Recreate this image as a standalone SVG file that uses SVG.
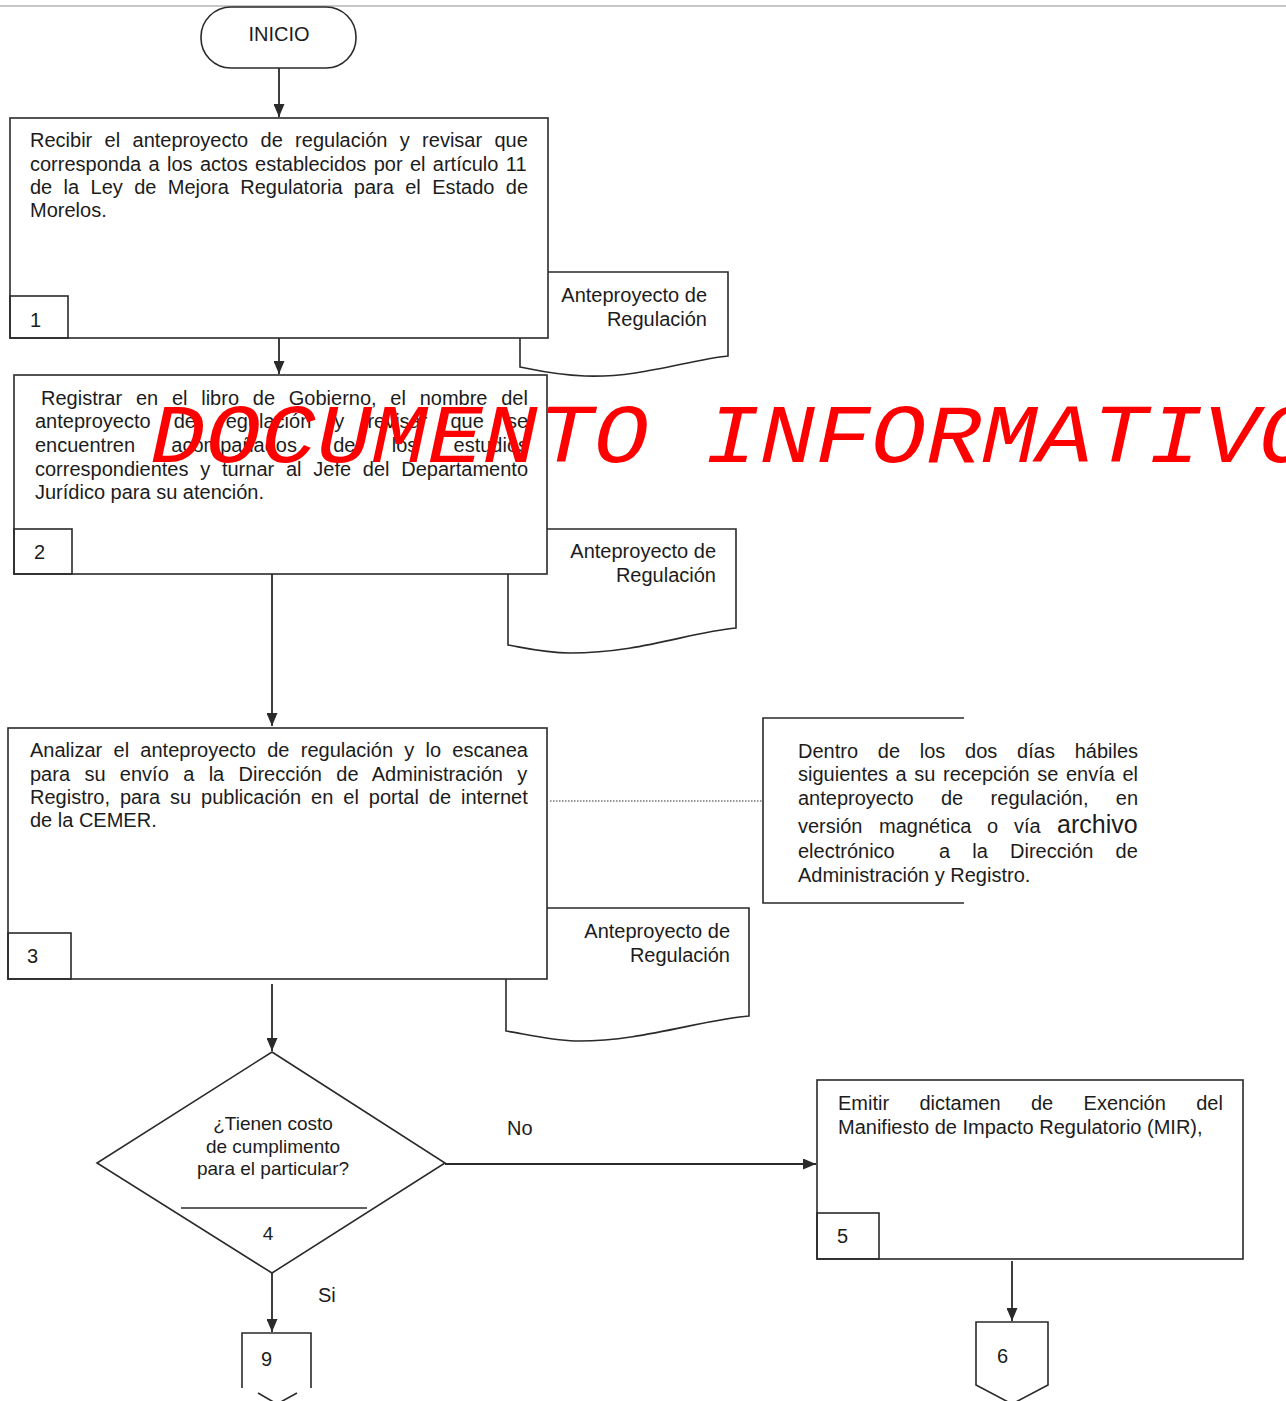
<svg xmlns="http://www.w3.org/2000/svg" width="1286" height="1401" viewBox="0 0 1286 1401">
<defs>
<style>
.t{font-family:"Liberation Sans",Arial,sans-serif;font-size:20px;fill:#1c1c1c}
.s{fill:#fff;stroke:#2a2a2a;stroke-width:1.6}
.n{fill:none;stroke:#2a2a2a;stroke-width:1.6}
.c{fill:none;stroke:#2a2a2a;stroke-width:1.8}
.e{text-anchor:end}
.m{text-anchor:middle}
</style>
<marker id="ah" viewBox="0 0 13 11" refX="13" refY="5.5" markerWidth="13" markerHeight="11" markerUnits="userSpaceOnUse" orient="auto">
<path d="M0,0 L13,5.5 L0,11 Z" fill="#2a2a2a"/>
</marker>
</defs>
<rect x="0" y="0" width="1286" height="1401" fill="#fff"/>
<line x1="0" y1="6" x2="1286" y2="6" stroke="#b5b5b5" stroke-width="1.5"/>

<g id="connectors">
<line class="c" x1="279" y1="68" x2="279" y2="117" marker-end="url(#ah)"/>
<line class="c" x1="279" y1="338" x2="279" y2="374" marker-end="url(#ah)"/>
<line class="c" x1="272" y1="574" x2="272" y2="726" marker-end="url(#ah)"/>
<line class="c" x1="272" y1="984" x2="272" y2="1051" marker-end="url(#ah)"/>
<line class="c" x1="445" y1="1164" x2="816" y2="1164" marker-end="url(#ah)"/>
<line class="c" x1="272" y1="1273" x2="272" y2="1332" marker-end="url(#ah)"/>
<line class="c" x1="1012" y1="1261" x2="1012" y2="1321" marker-end="url(#ah)"/>
<line x1="550" y1="801" x2="762" y2="801" stroke="#333" stroke-width="1.2" stroke-dasharray="1.5,1.5"/>
<text class="t" x="507" y="1135">No</text>
<text class="t" x="318" y="1302">Si</text>
</g>

<g id="inicio">
<rect class="s" x="201" y="7" width="155" height="61" rx="30" ry="30"/>
<text class="t m" x="279" y="41">INICIO</text>
</g>

<g id="doc1">
<path class="s" d="M520,272 H728 V356 C688,360 640,378 585,376 C555,375 535,370 520,367 Z"/>
<text class="t e" x="707" y="302">Anteproyecto de</text>
<text class="t e" x="707" y="326">Regulación</text>
</g>

<g id="step1">
<rect class="s" x="10" y="118" width="538" height="220"/>
<rect class="n" x="10" y="296" width="58" height="42"/>
<text class="t" x="30" y="327">1</text>
<text class="t" x="30" y="147" style="word-spacing:6.8px">Recibir el anteproyecto de regulación y revisar que</text>
<text class="t" x="30" y="171" style="word-spacing:1.8px">corresponda a los actos establecidos por el artículo 11</text>
<text class="t" x="30" y="194" style="word-spacing:5.8px">de la Ley de Mejora Regulatoria para el Estado de</text>
<text class="t" x="30" y="217">Morelos.</text>
</g>

<g id="doc2">
<path class="s" d="M508,529 H736 V628 C690,632 640,653 570,653 C545,653 525,648 508,645 Z"/>
<text class="t e" x="716" y="558">Anteproyecto de</text>
<text class="t e" x="716" y="582">Regulación</text>
</g>

<g id="step2">
<rect class="s" x="14" y="375" width="533" height="199"/>
<rect class="n" x="14" y="529" width="58" height="45"/>
<text class="t" x="34" y="559">2</text>
<text class="t" x="41" y="405" style="word-spacing:8.2px">Registrar en el libro de Gobierno, el nombre del</text>
<text class="t" x="35" y="428" style="word-spacing:17.5px">anteproyecto de regulación y revisar que se</text>
<text class="t" x="35" y="452" style="word-spacing:30.7px">encuentren acompañados de los estudios</text>
<text class="t" x="35" y="476" style="word-spacing:6.2px">correspondientes y turnar al Jefe del Departamento</text>
<text class="t" x="35" y="499">Jurídico para su atención.</text>
</g>

<g id="doc3">
<path class="s" d="M506,908 H749 V1016 C700,1020 640,1042 575,1041 C550,1040 525,1034 506,1031 Z"/>
<text class="t e" x="730" y="938">Anteproyecto de</text>
<text class="t e" x="730" y="962">Regulación</text>
</g>

<g id="step3">
<rect class="s" x="8" y="728" width="539" height="251"/>
<rect class="n" x="8" y="933" width="63" height="46"/>
<text class="t" x="27" y="963">3</text>
<text class="t" x="30" y="757" style="word-spacing:5.7px">Analizar el anteproyecto de regulación y lo escanea</text>
<text class="t" x="30" y="781" style="word-spacing:8.8px">para su envío a la Dirección de Administración y</text>
<text class="t" x="30" y="804" style="word-spacing:4.4px">Registro, para su publicación en el portal de internet</text>
<text class="t" x="30" y="827">de la CEMER.</text>
</g>

<g id="note">
<path class="n" d="M964,718 H763 V903 H964"/>
<text class="t" x="798" y="758" style="word-spacing:14.2px">Dentro de los dos días hábiles</text>
<text class="t" x="798" y="781" style="word-spacing:2px">siguientes a su recepción se envía el</text>
<text class="t" x="798" y="805" style="word-spacing:21.8px">anteproyecto de regulación, en</text>
<text class="t" y="833"><tspan x="798">versión</tspan><tspan x="879">magnética</tspan><tspan x="987">o</tspan><tspan x="1014">vía</tspan><tspan x="1057" style="font-size:25px">archivo</tspan></text>
<text class="t" x="798" y="858" xml:space="preserve" style="word-spacing:16.6px">electrónico  a la Dirección de</text>
<text class="t" x="798" y="882">Administración y Registro.</text>
</g>

<g id="decision4">
<path class="s" d="M272,1052 L445,1163 L272,1273 L97,1163 Z"/>
<line class="n" x1="181" y1="1208" x2="367" y2="1208"/>
<text class="t m" x="273" y="1130" style="font-size:19px">¿Tienen costo</text>
<text class="t m" x="273" y="1153" style="font-size:19px">de cumplimento</text>
<text class="t m" x="273" y="1175" style="font-size:19px">para el particular?</text>
<text class="t m" x="268" y="1240" style="font-size:19px">4</text>
</g>

<g id="step5">
<rect class="s" x="817" y="1080" width="426" height="179"/>
<rect class="n" x="817" y="1213" width="62" height="46"/>
<text class="t" x="837" y="1243">5</text>
<text class="t" x="838" y="1110" style="word-spacing:24.8px">Emitir dictamen de Exención del</text>
<text class="t" x="838" y="1134">Manifiesto de Impacto Regulatorio (MIR),</text>
</g>

<g id="connector9">
<path class="n" d="M242,1388 V1333 H311 V1388"/>
<path class="n" d="M258,1393 L277,1404 L297,1393"/>
<text class="t" x="261" y="1366">9</text>
</g>

<g id="connector6">
<path class="s" d="M976,1322 H1048 V1385 L1012,1404 L976,1385 Z"/>
<text class="t" x="997" y="1363">6</text>
</g>

<g id="watermark">
<text transform="translate(150,462) scale(1.1,1)" x="0" y="0" style="font-family:'Liberation Mono','Courier New',monospace;font-style:italic;font-size:84px;fill:#ff0000">DOCUMENTO INFORMATIVO</text>
</g>
</svg>
